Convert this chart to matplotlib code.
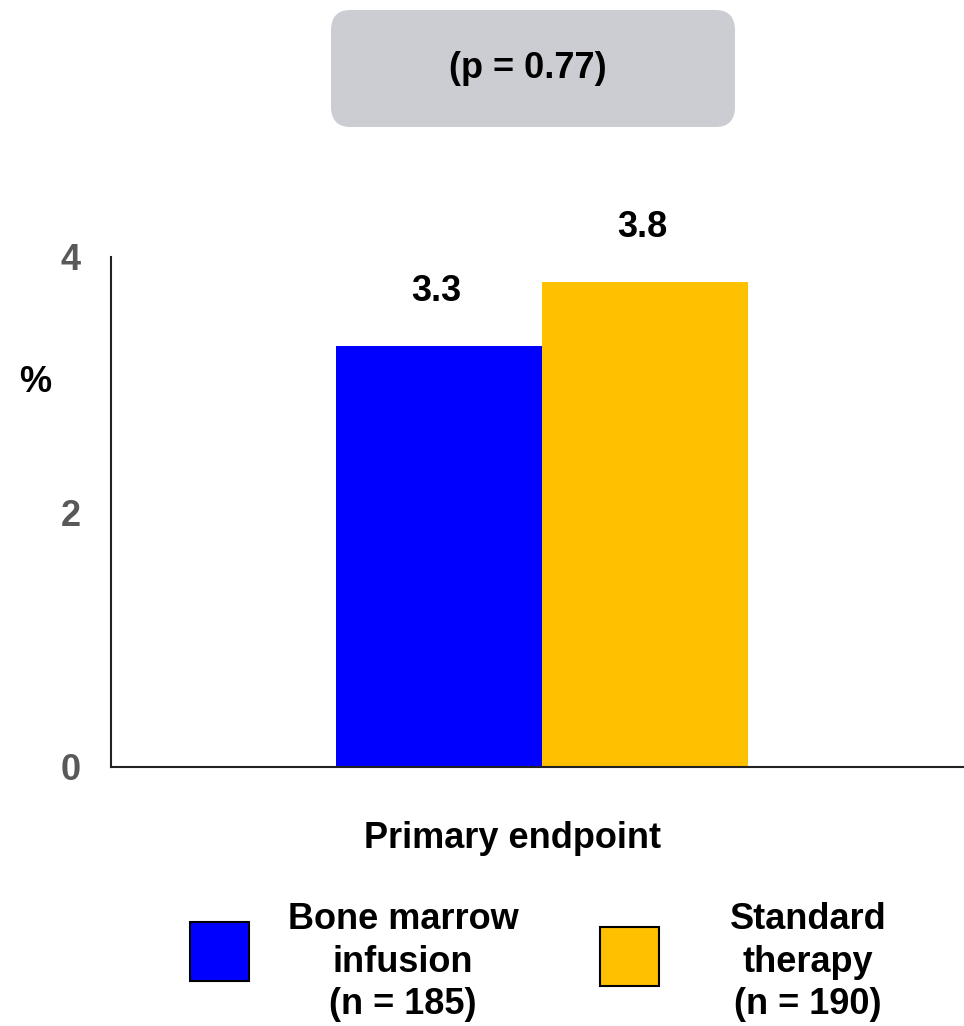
import matplotlib
matplotlib.use("Agg")
import matplotlib.pyplot as plt
from matplotlib.patches import FancyBboxPatch, Rectangle

plt.rcParams['font.family'] = ['Liberation Sans', 'DejaVu Sans']
plt.rcParams['font.weight'] = 'bold'

groups = ["Bone marrow\ninfusion\n(n = 185)", "Standard\ntherapy\n(n = 190)"]
values = [3.3, 3.8]
colors = ["#0000FF", "#FFC000"]
category = "Primary endpoint"
yticks = [0, 2, 4]
pvalue_text = "(p = 0.77)"

FS = 26
W, H = 964, 1026
fig = plt.figure(figsize=(W / 100, H / 100), dpi=100)
ax = fig.add_axes([111 / W, 1 - 767 / H, 1 - 111 / W, (767 - 257) / H])

xpos = [0, 1]
bars = ax.bar(xpos, values, width=1.0, color=colors, edgecolor='none')
for x, v in zip(xpos, values):
    ax.text(x - 0.015, v + 0.43, f"{v}", ha='center', va='center',
            fontsize=FS, fontweight='bold', color='black', clip_on=False)

ax.set_xlim(-1.592, 2.549)
ax.set_ylim(0, 4)
ax.set_yticks(yticks)
ax.set_yticklabels([str(t) for t in yticks], fontsize=FS, fontweight='bold', color='#595959')
ax.tick_params(axis='y', length=0, pad=22)
ax.set_xticks([])
for s in ['top', 'right']:
    ax.spines[s].set_visible(False)
for s in ['left', 'bottom']:
    ax.spines[s].set_linewidth(1.5)
    ax.spines[s].set_color('#222222')

fig.text(35 / W, 1 - 383 / H, "%", ha='center', va='center', fontsize=FS, fontweight='bold')
fig.text(513 / W, 1 - 838 / H, category, ha='center', va='center', fontsize=FS, fontweight='bold')

# p-value box
box = FancyBboxPatch((331 / W, 1 - 127 / H), (735 - 331) / W, (127 - 10) / H,
                     boxstyle="round,pad=0,rounding_size=0.02", transform=fig.transFigure,
                     facecolor='#CBCDD2', edgecolor='none')
fig.patches.append(box)
fig.text(528 / W, 1 - 68 / H, pvalue_text, ha='center', va='center', fontsize=FS, fontweight='bold')

# legend
sq = [(190, 922), (600, 927)]
txt_x = [403, 808]
for (sx, sy), c, lbl, tx in zip(sq, colors, groups, txt_x):
    r = Rectangle((sx / W, 1 - (sy + 59) / H), 59 / W, 59 / H, transform=fig.transFigure,
                  facecolor=c, edgecolor='black', linewidth=1.5)
    fig.patches.append(r)
    fig.text(tx / W, 1 - 962 / H, lbl, ha='center', va='center', fontsize=FS,
             fontweight='bold', linespacing=1.26)

fig.savefig("out.png", dpi=100)
